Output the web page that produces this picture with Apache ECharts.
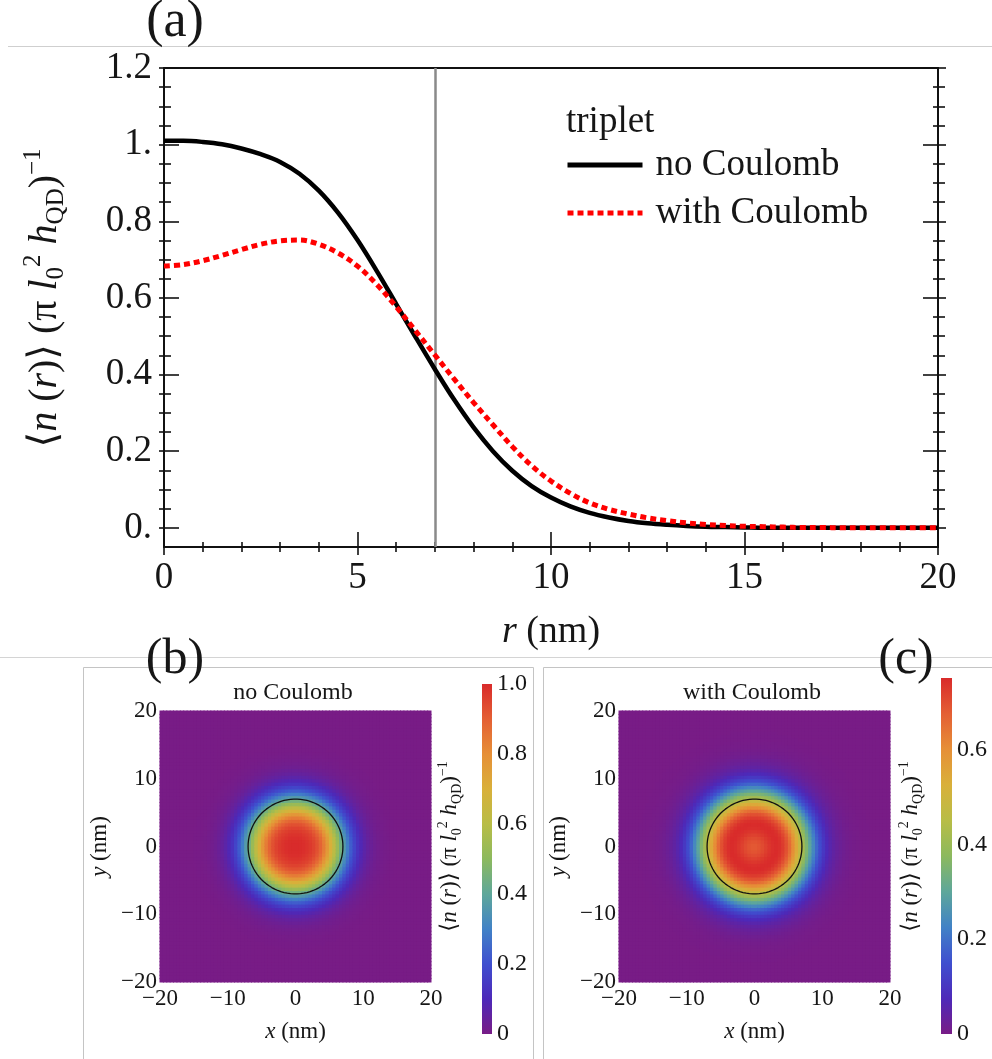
<!DOCTYPE html>
<html>
<head>
<meta charset="utf-8">
<script src="https://cdn.jsdelivr.net/npm/echarts@6/dist/echarts.min.js"></script>
<style>
  html, body { margin: 0; padding: 0; background: #fff; }
  #chart { width: 992px; height: 1059px; }
</style>
</head>
<body>
<div id="chart"></div>
<script>
// radial density <n(r)>; r in nm, step 0.5
const radius = [0, 0.5, 1, 1.5, 2, 2.5, 3, 3.5, 4, 4.5, 5, 5.5, 6, 6.5, 7, 7.5, 8, 8.5, 9, 9.5,
  10, 10.5, 11, 11.5, 12, 12.5, 13, 13.5, 14, 14.5, 15, 15.5, 16, 16.5, 17, 17.5, 18, 18.5, 19, 19.5, 20]
const noCoulomb = [1.010, 1.010, 1.007, 1.001, 0.990, 0.975, 0.955, 0.924, 0.880, 0.822,
  0.751, 0.670, 0.584, 0.498, 0.414, 0.334, 0.262, 0.200, 0.149, 0.109,
  0.079, 0.056, 0.039, 0.027, 0.018, 0.012, 0.008, 0.005, 0.003, 0.002,
  0.001, 0, 0, 0, 0, 0, 0, 0, 0, 0, 0]
const withCoulomb = [0.683, 0.687, 0.697, 0.711, 0.726, 0.740, 0.749, 0.751, 0.740, 0.717,
  0.683, 0.635, 0.577, 0.514, 0.451, 0.388, 0.327, 0.269, 0.212, 0.162,
  0.122, 0.090, 0.065, 0.048, 0.036, 0.026, 0.019, 0.013, 0.009, 0.006,
  0.004, 0.003, 0.002, 0.001, 0.001, 0, 0, 0, 0, 0, 0]
const dotRadius = 7   // nm, grey line in (a) and circles in (b), (c)
const rainbow = ['#781c86', '#4d29b9', '#3f4fcf', '#4182c6', '#5ea79a', '#8cb95e',
  '#b8bd46', '#d9b03a', '#e68f37', '#e45f34', '#d92b2b']

const FONT = '"Liberation Serif", "DejaVu Serif", serif'
const TXT = '#161616'
const axisInk = { color: '#111', width: 2 }
const tickInk = { color: '#111', width: 1.6 }

// density maps: cells 0.5 nm wide, centres from -19.75 to 19.75
const CELL = 0.5
const cellCentres = []
for (let c = -20 + CELL / 2; c < 20; c += CELL) cellCentres.push(+c.toFixed(2))

function profileAt (profile, r) {
  const step = radius[1] - radius[0]
  const i = Math.floor(r / step)
  if (i >= profile.length - 1) return profile[profile.length - 1]
  const f = r / step - i
  return profile[i] * (1 - f) + profile[i + 1] * f
}
function mapCells (profile) {
  const cells = []
  cellCentres.forEach(x => {
    cellCentres.forEach(y => {
      cells.push([x, y, profileAt(profile, Math.hypot(x, y))])
    })
  })
  return cells
}
function ring (rad) {
  const pts = []
  for (let a = 0; a <= 360; a += 4) {
    const t = a * Math.PI / 180
    pts.push([rad * Math.cos(t), rad * Math.sin(t)])
  }
  return pts
}
function renderCell (params, api) {
  const p0 = api.coord([api.value(0) - CELL / 2, api.value(1) + CELL / 2])
  const p1 = api.coord([api.value(0) + CELL / 2, api.value(1) - CELL / 2])
  return {
    type: 'rect',
    shape: { x: p0[0] - 0.5, y: p0[1] - 0.5, width: p1[0] - p0[0] + 1, height: p1[1] - p0[1] + 1 },
    style: { fill: api.visual('color') }
  }
}

function richSet (size) {
  const s = Math.round(size * 0.62)
  const lh = Math.round(size * 1.2)
  return {
    t: { fontFamily: FONT, fontSize: size, color: TXT, lineHeight: lh },
    i: { fontFamily: FONT, fontSize: size, fontStyle: 'italic', color: TXT, lineHeight: lh },
    sub: { fontFamily: FONT, fontSize: s, color: TXT, verticalAlign: 'bottom', lineHeight: s },
    sup: { fontFamily: FONT, fontSize: s, color: TXT, verticalAlign: 'top', lineHeight: s }
  }
}
const densityName = '{t|⟨}{i|n}{t| (}{i|r}{t|)⟩ (π }{i|l}{sub|0}{sup|2}{t| }{i|h}{sub|QD}{t|)}{sup|−1}'

const Y_MIN = -0.05
const Y_MAX = 1.2
const gridA = { left: 164, top: 68, width: 774, height: 479 }
const zeroPx = gridA.height * Y_MAX / (Y_MAX - Y_MIN)

const maxB = Math.max(...noCoulomb)
const maxC = Math.max(...withCoulomb)

function cbLabel (v) {
  if (Math.abs(v / 0.2 - Math.round(v / 0.2)) > 1e-6) return ''
  return v === 0 ? '0' : v.toFixed(1)
}
function nmLabel (v) { return v < 0 ? '−' + Math.abs(v) : String(v) }

const noLine = { show: false }
function mapAxes (gridIndex, nameGapRight) {
  return {
    x: {
      gridIndex, type: 'value', position: 'bottom', min: -20, max: 20, interval: 10,
      axisLine: noLine, axisTick: { show: false }, splitLine: { show: false },
      axisLabel: { margin: 5, fontSize: 23, fontFamily: FONT, color: TXT, formatter: nmLabel },
      name: '{i|x}{t| (nm)}', nameLocation: 'middle', nameGap: 36,
      nameTextStyle: { rich: richSet(23) }
    },
    y: [
      {
        gridIndex, type: 'value', position: 'left', min: -20, max: 20, interval: 10,
        axisLine: noLine, axisTick: { show: false }, splitLine: { show: false },
        axisLabel: { margin: 3, fontSize: 23, fontFamily: FONT, color: TXT, formatter: nmLabel },
        name: '{i|y}{t| (nm)}', nameLocation: 'middle', nameGap: 46, nameRotate: 90,
        nameTextStyle: { rich: richSet(23) }
      },
      {
        gridIndex, type: 'value', position: 'right', min: -20, max: 20,
        axisLine: noLine, axisTick: { show: false }, splitLine: { show: false },
        axisLabel: { show: false },
        name: densityName, nameLocation: 'middle', nameGap: nameGapRight, nameRotate: 90,
        nameTextStyle: { rich: richSet(23) }
      }
    ]
  }
}
const mapB = mapAxes(2, 5)
const mapC = mapAxes(4, 7)

function colorbarAxis (gridIndex, max) {
  return {
    gridIndex, type: 'value', position: 'right', min: 0, max, interval: 0.2,
    axisLine: noLine, axisTick: { show: false }, splitLine: { show: false },
    axisLabel: { margin: 5, fontSize: 24, fontFamily: FONT, color: TXT, formatter: cbLabel }
  }
}
function colorbarFill () {
  return new echarts.graphic.LinearGradient(0, 1, 0, 0,
    rainbow.map((c, i) => ({ offset: i / (rainbow.length - 1), color: c })))
}

const yTickLabel = v => {
  const s = v.toFixed(1)
  return s.endsWith('.0') ? s.slice(0, -1) : s
}

const frameY = (position, extra) => Object.assign({
  gridIndex: 1, type: 'value', position, min: 0, max: Y_MAX, interval: 0.2,
  axisLine: noLine, axisLabel: { show: false }, splitLine: { show: false }
}, extra)

const option = {
  animation: false,
  backgroundColor: '#fff',
  grid: [
    Object.assign({ outerBoundsMode: 'none' }, gridA),
    { left: gridA.left, top: gridA.top, width: gridA.width, height: zeroPx, outerBoundsMode: 'none' },
    { left: 160, top: 711, width: 271, height: 271, outerBoundsMode: 'none' },
    { left: 482, top: 684, width: 10, height: 350, outerBoundsMode: 'none' },
    { left: 619, top: 711, width: 271, height: 271, outerBoundsMode: 'none' },
    { left: 941, top: 678, width: 11, height: 356, outerBoundsMode: 'none' }
  ],
  legend: {
    data: ['no Coulomb', 'with Coulomb'],
    orient: 'vertical', left: 565, top: 145, padding: 0,
    itemWidth: 75, itemHeight: 14, itemGap: 8,
    itemStyle: { opacity: 0 },
    lineStyle: { width: 5 },
    textStyle: { fontFamily: FONT, fontSize: 37, color: TXT, lineHeight: 40, padding: [0, 0, 0, 8] }
  },
  xAxis: [
    {
      gridIndex: 0, type: 'value', position: 'bottom', min: 0, max: 20, interval: 5,
      axisLine: { onZero: false, lineStyle: axisInk },
      axisTick: { inside: true, length: 15, lineStyle: tickInk },
      minorTick: { show: true, splitNumber: 5, length: 5, lineStyle: tickInk },
      axisLabel: { margin: 13, fontSize: 37, fontFamily: FONT, color: TXT },
      splitLine: { show: false },
      name: '{i|r}{t| (nm)}', nameLocation: 'middle', nameGap: 62,
      nameTextStyle: { rich: richSet(38) }
    },
    {
      gridIndex: 0, type: 'value', position: 'bottom', min: 0, max: 20, interval: 5,
      axisLine: { show: false, onZero: false },
      axisTick: { inside: false, length: 8, lineStyle: tickInk },
      minorTick: { show: true, splitNumber: 5, length: 5, lineStyle: tickInk },
      axisLabel: { show: false }, splitLine: { show: false }
    },
    {
      gridIndex: 0, type: 'value', position: 'top', min: 0, max: 20,
      axisLine: { onZero: false, lineStyle: axisInk }, axisTick: { show: false },
      axisLabel: { show: false }, splitLine: { show: false }
    },
    { gridIndex: 1, type: 'value', min: 0, max: 20, show: false },
    mapB.x,
    { gridIndex: 3, type: 'value', min: 0, max: 1, show: false },
    mapC.x,
    { gridIndex: 5, type: 'value', min: 0, max: 1, show: false }
  ],
  yAxis: [
    {
      gridIndex: 0, type: 'value', position: 'left', min: Y_MIN, max: Y_MAX,
      axisLine: { onZero: false, lineStyle: axisInk }, axisTick: { show: false },
      axisLabel: { show: false }, splitLine: { show: false }
    },
    {
      gridIndex: 0, type: 'value', position: 'right', min: Y_MIN, max: Y_MAX,
      axisLine: { onZero: false, lineStyle: axisInk }, axisTick: { show: false },
      axisLabel: { show: false }, splitLine: { show: false }
    },
    frameY('left', {
      axisTick: { inside: true, length: 15, lineStyle: tickInk },
      minorTick: { show: true, splitNumber: 4, length: 7, lineStyle: tickInk },
      axisLabel: { margin: 12, fontSize: 37, fontFamily: FONT, color: TXT, formatter: yTickLabel },
      name: densityName, nameLocation: 'middle', nameGap: 95, nameRotate: 90,
      nameTextStyle: { rich: richSet(40) }
    }),
    frameY('left', {
      axisTick: { inside: false, length: 5, lineStyle: tickInk },
      minorTick: { show: true, splitNumber: 4, length: 5, lineStyle: tickInk }
    }),
    frameY('right', {
      axisTick: { inside: true, length: 15, lineStyle: tickInk },
      minorTick: { show: true, splitNumber: 4, length: 5, lineStyle: tickInk }
    }),
    frameY('right', {
      axisTick: { inside: false, length: 8, lineStyle: tickInk },
      minorTick: { show: true, splitNumber: 4, length: 7, lineStyle: tickInk }
    }),
    mapB.y[0], mapB.y[1],
    colorbarAxis(3, 1.0),
    mapC.y[0], mapC.y[1],
    colorbarAxis(5, maxC)
  ],
  visualMap: [
    { type: 'continuous', show: false, seriesIndex: 2, dimension: 2, min: 0, max: maxB, inRange: { color: rainbow } },
    { type: 'continuous', show: false, seriesIndex: 4, dimension: 2, min: 0, max: maxC, inRange: { color: rainbow } }
  ],
  series: [
    {
      name: 'no Coulomb', type: 'line', xAxisIndex: 0, yAxisIndex: 0, z: 4,
      data: radius.map((r, i) => [r, noCoulomb[i]]),
      symbol: 'none', smooth: 0.35,
      lineStyle: { color: '#000', width: 4.5 },
      itemStyle: { color: '#000' },
      markLine: {
        silent: true, symbol: 'none', z: 1, label: { show: false },
        lineStyle: { color: '#8a8a8a', width: 2.5, type: 'solid' },
        data: [{ xAxis: dotRadius }]
      }
    },
    {
      name: 'with Coulomb', type: 'line', xAxisIndex: 0, yAxisIndex: 0, z: 5,
      data: radius.map((r, i) => [r, withCoulomb[i]]),
      symbol: 'none', smooth: 0.35,
      lineStyle: { color: '#ff0000', width: 5, type: [6, 4] },
      itemStyle: { color: '#ff0000' }
    },
    {
      type: 'custom', xAxisIndex: 4, yAxisIndex: 6, data: mapCells(noCoulomb),
      encode: { x: 0, y: 1 }, renderItem: renderCell, silent: true, progressive: 0
    },
    {
      type: 'line', xAxisIndex: 4, yAxisIndex: 6, data: ring(dotRadius), z: 5,
      symbol: 'none', silent: true, lineStyle: { color: '#111', width: 1.3 }
    },
    {
      type: 'custom', xAxisIndex: 6, yAxisIndex: 9, data: mapCells(withCoulomb),
      encode: { x: 0, y: 1 }, renderItem: renderCell, silent: true, progressive: 0
    },
    {
      type: 'line', xAxisIndex: 6, yAxisIndex: 9, data: ring(dotRadius), z: 5,
      symbol: 'none', silent: true, lineStyle: { color: '#111', width: 1.3 }
    }
  ],
  graphic: [
    { type: 'line', z: 0, shape: { x1: 8, y1: 46.5, x2: 992, y2: 46.5 }, style: { stroke: '#cfcfcf', lineWidth: 1 } },
    { type: 'line', z: 0, shape: { x1: 0, y1: 657.5, x2: 992, y2: 657.5 }, style: { stroke: '#d4d4d4', lineWidth: 1 } },
    { type: 'polyline', z: 0, shape: { points: [[83.5, 1059], [83.5, 667.5], [533.5, 667.5], [533.5, 1059]] }, style: { stroke: '#c4c4c4', lineWidth: 1, fill: null } },
    { type: 'polyline', z: 0, shape: { points: [[543.5, 1059], [543.5, 667.5], [992, 667.5]] }, style: { stroke: '#c4c4c4', lineWidth: 1, fill: null } },
    { type: 'rect', shape: { x: 482, y: 684, width: 10, height: 350 }, style: { fill: colorbarFill() } },
    { type: 'rect', shape: { x: 941, y: 678, width: 11, height: 356 }, style: { fill: colorbarFill() } },
    { type: 'text', x: 175, y: 22, style: { text: '(a)', fontSize: 52, fontFamily: FONT, fill: TXT, align: 'center', verticalAlign: 'middle' } },
    { type: 'text', x: 175, y: 660, style: { text: '(b)', fontSize: 50, fontFamily: FONT, fill: TXT, align: 'center', verticalAlign: 'middle' } },
    { type: 'text', x: 906, y: 660, style: { text: '(c)', fontSize: 50, fontFamily: FONT, fill: TXT, align: 'center', verticalAlign: 'middle' } },
    { type: 'text', x: 566, y: 122, style: { text: 'triplet', fontSize: 37, fontFamily: FONT, fill: TXT, align: 'left', verticalAlign: 'middle' } },
    { type: 'text', x: 293, y: 693, style: { text: 'no Coulomb', fontSize: 24, fontFamily: FONT, fill: TXT, align: 'center', verticalAlign: 'middle' } },
    { type: 'text', x: 752, y: 693, style: { text: 'with Coulomb', fontSize: 24, fontFamily: FONT, fill: TXT, align: 'center', verticalAlign: 'middle' } }
  ]
}

const myChart = echarts.init(document.getElementById('chart'))
myChart.setOption(option)
</script>
</body>
</html>
